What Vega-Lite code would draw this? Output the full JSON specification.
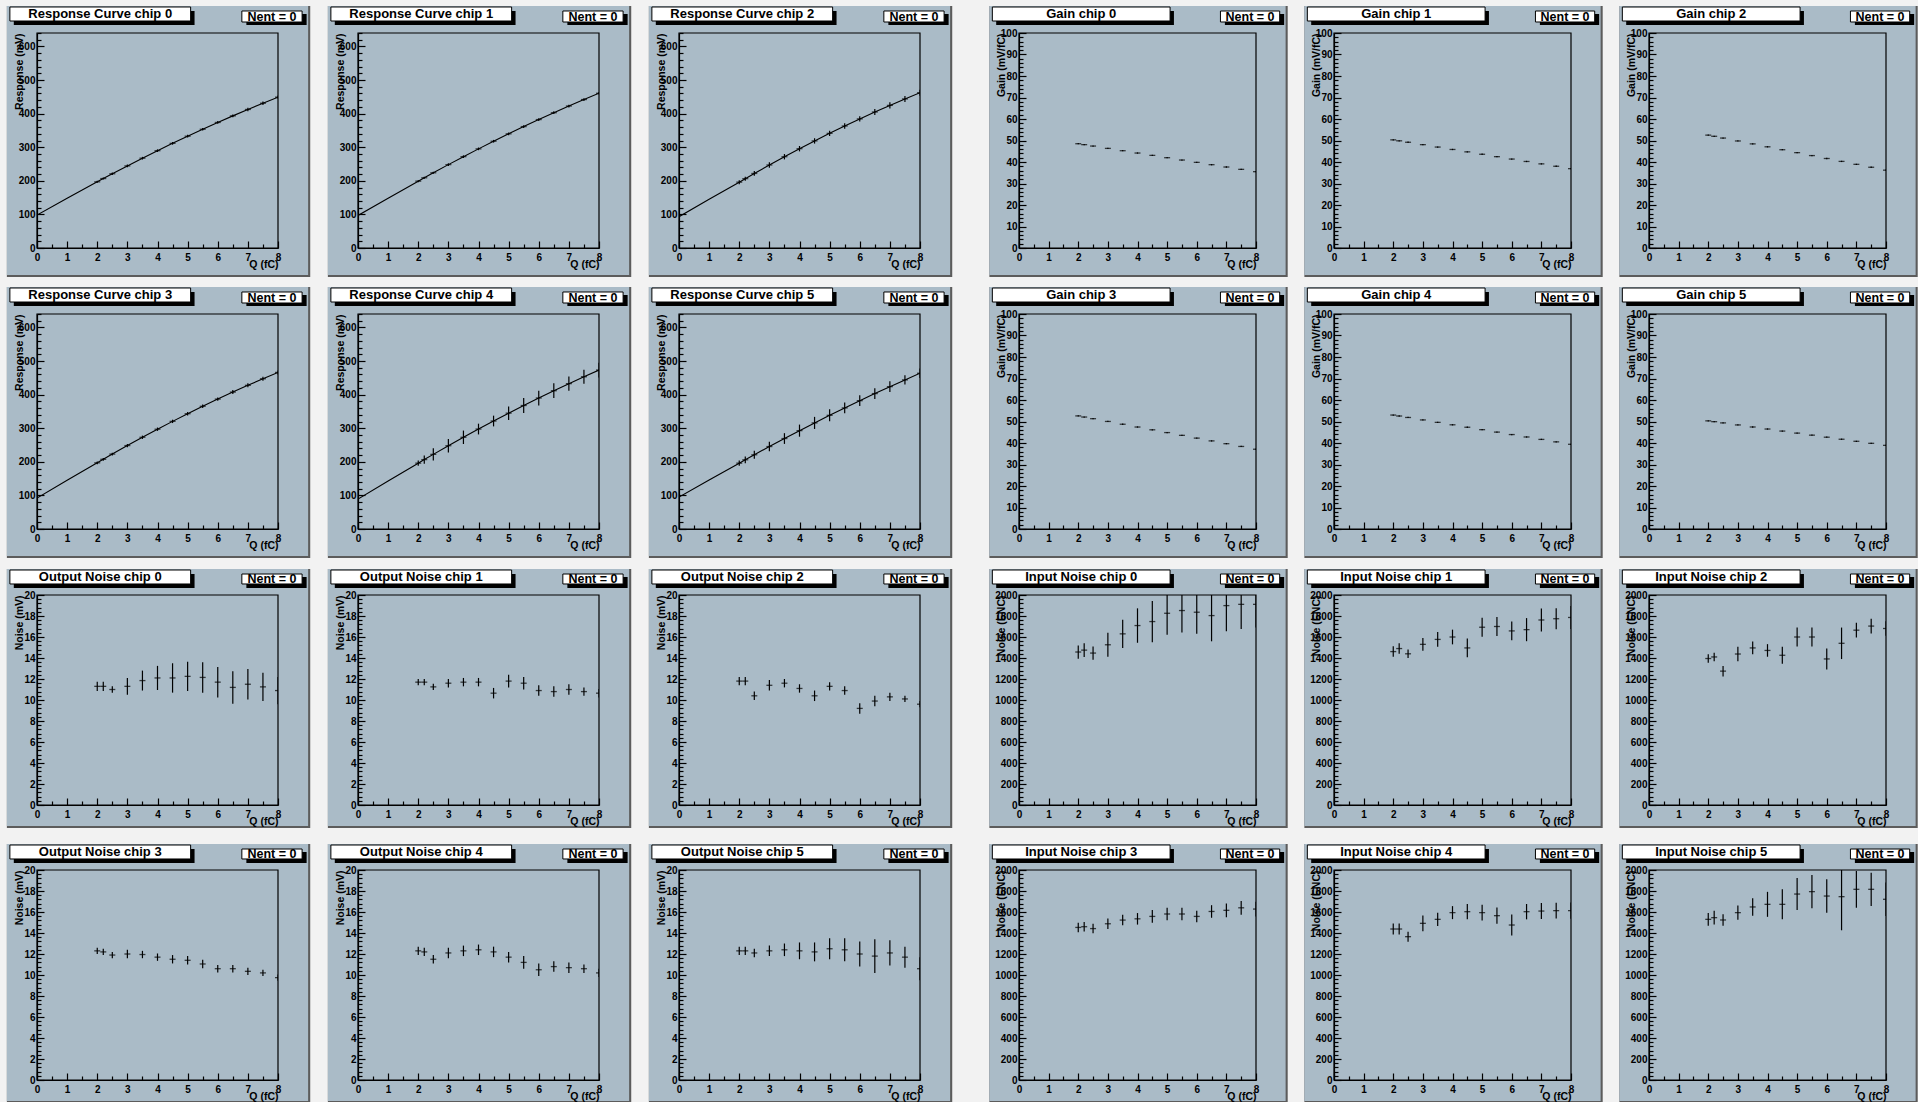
{
"$schema": "https://vega.github.io/schema/vega-lite/v6.json",
"background": "#f2f2f2",
"padding": {"left": 6, "top": 5, "right": 0, "bottom": 0},
"autosize": {"type": "pad"},
"datasets": {
"resp": [
{"chip":"Response Curve chip 0","q":0,"f":98},{"chip":"Response Curve chip 0","q":1,"f":148},
{"chip":"Response Curve chip 0","q":2,"v":197,"e":3,"f":197},{"chip":"Response Curve chip 0","q":2.2,"v":206.7,"e":3,"f":206.7},{"chip":"Response Curve chip 0","q":2.5,"v":221,"e":4,"f":221},{"chip":"Response Curve chip 0","q":3,"v":244.4,"e":4,"f":244.4},{"chip":"Response Curve chip 0","q":3.5,"v":267.3,"e":4,"f":267.3},{"chip":"Response Curve chip 0","q":4,"v":289.7,"e":4,"f":289.7},{"chip":"Response Curve chip 0","q":4.5,"v":311.5,"e":4,"f":311.5},{"chip":"Response Curve chip 0","q":5,"v":332.8,"e":4,"f":332.8},{"chip":"Response Curve chip 0","q":5.5,"v":353.5,"e":4,"f":353.5},{"chip":"Response Curve chip 0","q":6,"v":373.7,"e":4,"f":373.7},{"chip":"Response Curve chip 0","q":6.5,"v":393.3,"e":4,"f":393.3},{"chip":"Response Curve chip 0","q":7,"v":412.4,"e":5,"f":412.4},{"chip":"Response Curve chip 0","q":7.5,"v":431,"e":5,"f":431},{"chip":"Response Curve chip 0","q":8,"v":449,"e":5,"f":449},
{"chip":"Response Curve chip 1","q":0,"f":97},{"chip":"Response Curve chip 1","q":1,"f":148},
{"chip":"Response Curve chip 1","q":2,"v":199,"e":3,"f":199},{"chip":"Response Curve chip 1","q":2.2,"v":209,"e":3,"f":209},{"chip":"Response Curve chip 1","q":2.5,"v":223.9,"e":3,"f":223.9},{"chip":"Response Curve chip 1","q":3,"v":248.2,"e":4,"f":248.2},{"chip":"Response Curve chip 1","q":3.5,"v":271.9,"e":4,"f":271.9},{"chip":"Response Curve chip 1","q":4,"v":295.1,"e":4,"f":295.1},{"chip":"Response Curve chip 1","q":4.5,"v":317.8,"e":4,"f":317.8},{"chip":"Response Curve chip 1","q":5,"v":339.9,"e":4,"f":339.9},{"chip":"Response Curve chip 1","q":5.5,"v":361.4,"e":4,"f":361.4},{"chip":"Response Curve chip 1","q":6,"v":382.3,"e":4,"f":382.3},{"chip":"Response Curve chip 1","q":6.5,"v":402.7,"e":4,"f":402.7},{"chip":"Response Curve chip 1","q":7,"v":422.6,"e":4,"f":422.6},{"chip":"Response Curve chip 1","q":7.5,"v":441.9,"e":4,"f":441.9},{"chip":"Response Curve chip 1","q":8,"v":460.6,"e":4,"f":460.6},
{"chip":"Response Curve chip 2","q":0,"f":93},{"chip":"Response Curve chip 2","q":1,"f":145},
{"chip":"Response Curve chip 2","q":2,"v":196,"e":6,"f":196},{"chip":"Response Curve chip 2","q":2.2,"v":206.4,"e":6,"f":206.4},{"chip":"Response Curve chip 2","q":2.5,"v":221.9,"e":7,"f":221.9},{"chip":"Response Curve chip 2","q":3,"v":247.1,"e":8,"f":247.1},{"chip":"Response Curve chip 2","q":3.5,"v":271.7,"e":8,"f":271.7},{"chip":"Response Curve chip 2","q":4,"v":295.6,"e":8,"f":295.6},{"chip":"Response Curve chip 2","q":4.5,"v":318.8,"e":8,"f":318.8},{"chip":"Response Curve chip 2","q":5,"v":341.3,"e":8,"f":341.3},{"chip":"Response Curve chip 2","q":5.5,"v":363.1,"e":8,"f":363.1},{"chip":"Response Curve chip 2","q":6,"v":384.3,"e":8,"f":384.3},{"chip":"Response Curve chip 2","q":6.5,"v":404.8,"e":9,"f":404.8},{"chip":"Response Curve chip 2","q":7,"v":424.5,"e":9,"f":424.5},{"chip":"Response Curve chip 2","q":7.5,"v":443.7,"e":9,"f":443.7},{"chip":"Response Curve chip 2","q":8,"v":462.1,"e":9,"f":462.1},
{"chip":"Response Curve chip 3","q":0,"f":92},{"chip":"Response Curve chip 3","q":1,"f":145},
{"chip":"Response Curve chip 3","q":2,"v":197,"e":4,"f":197},{"chip":"Response Curve chip 3","q":2.2,"v":207.5,"e":4,"f":207.5},{"chip":"Response Curve chip 3","q":2.5,"v":223,"e":4,"f":223},{"chip":"Response Curve chip 3","q":3,"v":248.3,"e":5,"f":248.3},{"chip":"Response Curve chip 3","q":3.5,"v":273,"e":5,"f":273},{"chip":"Response Curve chip 3","q":4,"v":297,"e":5,"f":297},{"chip":"Response Curve chip 3","q":4.5,"v":320.4,"e":5,"f":320.4},{"chip":"Response Curve chip 3","q":5,"v":343.2,"e":5,"f":343.2},{"chip":"Response Curve chip 3","q":5.5,"v":365.3,"e":5,"f":365.3},{"chip":"Response Curve chip 3","q":6,"v":386.7,"e":5,"f":386.7},{"chip":"Response Curve chip 3","q":6.5,"v":407.5,"e":6,"f":407.5},{"chip":"Response Curve chip 3","q":7,"v":427.7,"e":6,"f":427.7},{"chip":"Response Curve chip 3","q":7.5,"v":447.2,"e":6,"f":447.2},{"chip":"Response Curve chip 3","q":8,"v":466.1,"e":6,"f":466.1},
{"chip":"Response Curve chip 4","q":0,"f":89},{"chip":"Response Curve chip 4","q":1,"f":143},
{"chip":"Response Curve chip 4","q":2,"v":196,"e":8,"f":196},{"chip":"Response Curve chip 4","q":2.2,"v":206.6,"e":12,"f":206.6},{"chip":"Response Curve chip 4","q":2.5,"v":222.2,"e":18,"f":222.2},{"chip":"Response Curve chip 4","q":3,"v":247.9,"e":20,"f":247.9},{"chip":"Response Curve chip 4","q":3.5,"v":273,"e":20,"f":273},{"chip":"Response Curve chip 4","q":4,"v":297.5,"e":16,"f":297.5},{"chip":"Response Curve chip 4","q":4.5,"v":321.4,"e":16,"f":321.4},{"chip":"Response Curve chip 4","q":5,"v":344.8,"e":20,"f":344.8},{"chip":"Response Curve chip 4","q":5.5,"v":367.6,"e":22,"f":367.6},{"chip":"Response Curve chip 4","q":6,"v":389.9,"e":22,"f":389.9},{"chip":"Response Curve chip 4","q":6.5,"v":411.6,"e":22,"f":411.6},{"chip":"Response Curve chip 4","q":7,"v":432.7,"e":21,"f":432.7},{"chip":"Response Curve chip 4","q":7.5,"v":453.2,"e":21,"f":453.2},{"chip":"Response Curve chip 4","q":8,"v":473.2,"e":22,"f":473.2},
{"chip":"Response Curve chip 5","q":0,"f":95},{"chip":"Response Curve chip 5","q":1,"f":146},
{"chip":"Response Curve chip 5","q":2,"v":196,"e":8,"f":196},{"chip":"Response Curve chip 5","q":2.2,"v":206,"e":10,"f":206},{"chip":"Response Curve chip 5","q":2.5,"v":220.9,"e":12,"f":220.9},{"chip":"Response Curve chip 5","q":3,"v":245.4,"e":14,"f":245.4},{"chip":"Response Curve chip 5","q":3.5,"v":269.3,"e":16,"f":269.3},{"chip":"Response Curve chip 5","q":4,"v":292.8,"e":18,"f":292.8},{"chip":"Response Curve chip 5","q":4.5,"v":315.8,"e":18,"f":315.8},{"chip":"Response Curve chip 5","q":5,"v":338.4,"e":18,"f":338.4},{"chip":"Response Curve chip 5","q":5.5,"v":360.4,"e":16,"f":360.4},{"chip":"Response Curve chip 5","q":6,"v":382,"e":16,"f":382},{"chip":"Response Curve chip 5","q":6.5,"v":403.1,"e":16,"f":403.1},{"chip":"Response Curve chip 5","q":7,"v":423.8,"e":16,"f":423.8},{"chip":"Response Curve chip 5","q":7.5,"v":443.9,"e":14,"f":443.9},{"chip":"Response Curve chip 5","q":8,"v":463.6,"e":14,"f":463.6}
],
"gain": [
{"chip":"Gain chip 0","q":2,"v":48.5,"e":0.3},{"chip":"Gain chip 0","q":2.2,"v":48.07,"e":0.3},{"chip":"Gain chip 0","q":2.5,"v":47.42,"e":0.3},{"chip":"Gain chip 0","q":3,"v":46.33,"e":0.3},{"chip":"Gain chip 0","q":3.5,"v":45.25,"e":0.3},{"chip":"Gain chip 0","q":4,"v":44.17,"e":0.3},{"chip":"Gain chip 0","q":4.5,"v":43.08,"e":0.3},{"chip":"Gain chip 0","q":5,"v":42.0,"e":0.3},{"chip":"Gain chip 0","q":5.5,"v":40.92,"e":0.3},{"chip":"Gain chip 0","q":6,"v":39.83,"e":0.3},{"chip":"Gain chip 0","q":6.5,"v":38.75,"e":0.3},{"chip":"Gain chip 0","q":7,"v":37.67,"e":0.3},{"chip":"Gain chip 0","q":7.5,"v":36.58,"e":0.3},{"chip":"Gain chip 0","q":8,"v":35.5,"e":0.3},
{"chip":"Gain chip 1","q":2,"v":50.3,"e":0.3},{"chip":"Gain chip 1","q":2.2,"v":49.85,"e":0.3},{"chip":"Gain chip 1","q":2.5,"v":49.18,"e":0.3},{"chip":"Gain chip 1","q":3,"v":48.07,"e":0.3},{"chip":"Gain chip 1","q":3.5,"v":46.95,"e":0.3},{"chip":"Gain chip 1","q":4,"v":45.83,"e":0.3},{"chip":"Gain chip 1","q":4.5,"v":44.72,"e":0.3},{"chip":"Gain chip 1","q":5,"v":43.6,"e":0.3},{"chip":"Gain chip 1","q":5.5,"v":42.48,"e":0.3},{"chip":"Gain chip 1","q":6,"v":41.37,"e":0.3},{"chip":"Gain chip 1","q":6.5,"v":40.25,"e":0.3},{"chip":"Gain chip 1","q":7,"v":39.13,"e":0.3},{"chip":"Gain chip 1","q":7.5,"v":38.02,"e":0.3},{"chip":"Gain chip 1","q":8,"v":36.9,"e":0.3},
{"chip":"Gain chip 2","q":2,"v":52.5,"e":0.3},{"chip":"Gain chip 2","q":2.2,"v":51.96,"e":0.3},{"chip":"Gain chip 2","q":2.5,"v":51.14,"e":0.3},{"chip":"Gain chip 2","q":3,"v":49.78,"e":0.3},{"chip":"Gain chip 2","q":3.5,"v":48.43,"e":0.3},{"chip":"Gain chip 2","q":4,"v":47.07,"e":0.3},{"chip":"Gain chip 2","q":4.5,"v":45.71,"e":0.3},{"chip":"Gain chip 2","q":5,"v":44.35,"e":0.3},{"chip":"Gain chip 2","q":5.5,"v":42.99,"e":0.3},{"chip":"Gain chip 2","q":6,"v":41.63,"e":0.3},{"chip":"Gain chip 2","q":6.5,"v":40.28,"e":0.3},{"chip":"Gain chip 2","q":7,"v":38.92,"e":0.3},{"chip":"Gain chip 2","q":7.5,"v":37.56,"e":0.3},{"chip":"Gain chip 2","q":8,"v":36.2,"e":0.3},
{"chip":"Gain chip 3","q":2,"v":52.6,"e":0.3},{"chip":"Gain chip 3","q":2.2,"v":52.08,"e":0.3},{"chip":"Gain chip 3","q":2.5,"v":51.31,"e":0.3},{"chip":"Gain chip 3","q":3,"v":50.02,"e":0.3},{"chip":"Gain chip 3","q":3.5,"v":48.73,"e":0.3},{"chip":"Gain chip 3","q":4,"v":47.43,"e":0.3},{"chip":"Gain chip 3","q":4.5,"v":46.14,"e":0.3},{"chip":"Gain chip 3","q":5,"v":44.85,"e":0.3},{"chip":"Gain chip 3","q":5.5,"v":43.56,"e":0.3},{"chip":"Gain chip 3","q":6,"v":42.27,"e":0.3},{"chip":"Gain chip 3","q":6.5,"v":40.98,"e":0.3},{"chip":"Gain chip 3","q":7,"v":39.68,"e":0.3},{"chip":"Gain chip 3","q":7.5,"v":38.39,"e":0.3},{"chip":"Gain chip 3","q":8,"v":37.1,"e":0.3},
{"chip":"Gain chip 4","q":2,"v":53.0,"e":0.3},{"chip":"Gain chip 4","q":2.2,"v":52.55,"e":0.3},{"chip":"Gain chip 4","q":2.5,"v":51.87,"e":0.3},{"chip":"Gain chip 4","q":3,"v":50.73,"e":0.3},{"chip":"Gain chip 4","q":3.5,"v":49.6,"e":0.3},{"chip":"Gain chip 4","q":4,"v":48.47,"e":0.3},{"chip":"Gain chip 4","q":4.5,"v":47.33,"e":0.3},{"chip":"Gain chip 4","q":5,"v":46.2,"e":0.3},{"chip":"Gain chip 4","q":5.5,"v":45.07,"e":0.3},{"chip":"Gain chip 4","q":6,"v":43.93,"e":0.3},{"chip":"Gain chip 4","q":6.5,"v":42.8,"e":0.3},{"chip":"Gain chip 4","q":7,"v":41.67,"e":0.3},{"chip":"Gain chip 4","q":7.5,"v":40.53,"e":0.3},{"chip":"Gain chip 4","q":8,"v":39.4,"e":0.3},
{"chip":"Gain chip 5","q":2,"v":50.3,"e":0.3},{"chip":"Gain chip 5","q":2.2,"v":49.92,"e":0.3},{"chip":"Gain chip 5","q":2.5,"v":49.35,"e":0.3},{"chip":"Gain chip 5","q":3,"v":48.4,"e":0.3},{"chip":"Gain chip 5","q":3.5,"v":47.45,"e":0.3},{"chip":"Gain chip 5","q":4,"v":46.5,"e":0.3},{"chip":"Gain chip 5","q":4.5,"v":45.55,"e":0.3},{"chip":"Gain chip 5","q":5,"v":44.6,"e":0.3},{"chip":"Gain chip 5","q":5.5,"v":43.65,"e":0.3},{"chip":"Gain chip 5","q":6,"v":42.7,"e":0.3},{"chip":"Gain chip 5","q":6.5,"v":41.75,"e":0.3},{"chip":"Gain chip 5","q":7,"v":40.8,"e":0.3},{"chip":"Gain chip 5","q":7.5,"v":39.85,"e":0.3},{"chip":"Gain chip 5","q":8,"v":38.9,"e":0.3}
],
"onoise": [
{"chip":"Output Noise chip 0","q":2,"v":11.3,"e":0.45},{"chip":"Output Noise chip 0","q":2.2,"v":11.3,"e":0.45},{"chip":"Output Noise chip 0","q":2.5,"v":11.0,"e":0.3},{"chip":"Output Noise chip 0","q":3,"v":11.3,"e":0.8},{"chip":"Output Noise chip 0","q":3.5,"v":11.85,"e":0.95},{"chip":"Output Noise chip 0","q":4,"v":12.1,"e":1.15},{"chip":"Output Noise chip 0","q":4.5,"v":12.1,"e":1.4},{"chip":"Output Noise chip 0","q":5,"v":12.25,"e":1.4},{"chip":"Output Noise chip 0","q":5.5,"v":12.15,"e":1.45},{"chip":"Output Noise chip 0","q":6,"v":11.7,"e":1.45},{"chip":"Output Noise chip 0","q":6.5,"v":11.2,"e":1.55},{"chip":"Output Noise chip 0","q":7,"v":11.5,"e":1.45},{"chip":"Output Noise chip 0","q":7.5,"v":11.25,"e":1.35},{"chip":"Output Noise chip 0","q":8,"v":10.9,"e":1.3},
{"chip":"Output Noise chip 1","q":2,"v":11.7,"e":0.3},{"chip":"Output Noise chip 1","q":2.2,"v":11.7,"e":0.3},{"chip":"Output Noise chip 1","q":2.5,"v":11.25,"e":0.3},{"chip":"Output Noise chip 1","q":3,"v":11.6,"e":0.4},{"chip":"Output Noise chip 1","q":3.5,"v":11.7,"e":0.4},{"chip":"Output Noise chip 1","q":4,"v":11.7,"e":0.4},{"chip":"Output Noise chip 1","q":4.5,"v":10.65,"e":0.5},{"chip":"Output Noise chip 1","q":5,"v":11.8,"e":0.6},{"chip":"Output Noise chip 1","q":5.5,"v":11.6,"e":0.6},{"chip":"Output Noise chip 1","q":6,"v":10.9,"e":0.5},{"chip":"Output Noise chip 1","q":6.5,"v":10.8,"e":0.5},{"chip":"Output Noise chip 1","q":7,"v":11.0,"e":0.5},{"chip":"Output Noise chip 1","q":7.5,"v":10.8,"e":0.4},{"chip":"Output Noise chip 1","q":8,"v":10.65,"e":0.4},
{"chip":"Output Noise chip 2","q":2,"v":11.8,"e":0.4},{"chip":"Output Noise chip 2","q":2.2,"v":11.8,"e":0.4},{"chip":"Output Noise chip 2","q":2.5,"v":10.4,"e":0.4},{"chip":"Output Noise chip 2","q":3,"v":11.4,"e":0.5},{"chip":"Output Noise chip 2","q":3.5,"v":11.6,"e":0.4},{"chip":"Output Noise chip 2","q":4,"v":11.1,"e":0.4},{"chip":"Output Noise chip 2","q":4.5,"v":10.4,"e":0.5},{"chip":"Output Noise chip 2","q":5,"v":11.3,"e":0.4},{"chip":"Output Noise chip 2","q":5.5,"v":10.9,"e":0.4},{"chip":"Output Noise chip 2","q":6,"v":9.2,"e":0.5},{"chip":"Output Noise chip 2","q":6.5,"v":9.9,"e":0.5},{"chip":"Output Noise chip 2","q":7,"v":10.3,"e":0.4},{"chip":"Output Noise chip 2","q":7.5,"v":10.1,"e":0.3},{"chip":"Output Noise chip 2","q":8,"v":9.6,"e":0.3},
{"chip":"Output Noise chip 3","q":2,"v":12.3,"e":0.3},{"chip":"Output Noise chip 3","q":2.2,"v":12.2,"e":0.3},{"chip":"Output Noise chip 3","q":2.5,"v":11.9,"e":0.3},{"chip":"Output Noise chip 3","q":3,"v":12.0,"e":0.4},{"chip":"Output Noise chip 3","q":3.5,"v":11.95,"e":0.35},{"chip":"Output Noise chip 3","q":4,"v":11.7,"e":0.35},{"chip":"Output Noise chip 3","q":4.5,"v":11.5,"e":0.4},{"chip":"Output Noise chip 3","q":5,"v":11.4,"e":0.4},{"chip":"Output Noise chip 3","q":5.5,"v":11.05,"e":0.4},{"chip":"Output Noise chip 3","q":6,"v":10.6,"e":0.35},{"chip":"Output Noise chip 3","q":6.5,"v":10.6,"e":0.35},{"chip":"Output Noise chip 3","q":7,"v":10.35,"e":0.35},{"chip":"Output Noise chip 3","q":7.5,"v":10.2,"e":0.3},{"chip":"Output Noise chip 3","q":8,"v":9.75,"e":0.3},
{"chip":"Output Noise chip 4","q":2,"v":12.3,"e":0.4},{"chip":"Output Noise chip 4","q":2.2,"v":12.2,"e":0.4},{"chip":"Output Noise chip 4","q":2.5,"v":11.5,"e":0.4},{"chip":"Output Noise chip 4","q":3,"v":12.1,"e":0.5},{"chip":"Output Noise chip 4","q":3.5,"v":12.3,"e":0.5},{"chip":"Output Noise chip 4","q":4,"v":12.4,"e":0.5},{"chip":"Output Noise chip 4","q":4.5,"v":12.2,"e":0.5},{"chip":"Output Noise chip 4","q":5,"v":11.7,"e":0.5},{"chip":"Output Noise chip 4","q":5.5,"v":11.2,"e":0.6},{"chip":"Output Noise chip 4","q":6,"v":10.5,"e":0.6},{"chip":"Output Noise chip 4","q":6.5,"v":10.8,"e":0.5},{"chip":"Output Noise chip 4","q":7,"v":10.7,"e":0.5},{"chip":"Output Noise chip 4","q":7.5,"v":10.6,"e":0.4},{"chip":"Output Noise chip 4","q":8,"v":10.2,"e":0.4},
{"chip":"Output Noise chip 5","q":2,"v":12.3,"e":0.4},{"chip":"Output Noise chip 5","q":2.2,"v":12.3,"e":0.4},{"chip":"Output Noise chip 5","q":2.5,"v":12.1,"e":0.4},{"chip":"Output Noise chip 5","q":3,"v":12.3,"e":0.5},{"chip":"Output Noise chip 5","q":3.5,"v":12.4,"e":0.6},{"chip":"Output Noise chip 5","q":4,"v":12.3,"e":0.8},{"chip":"Output Noise chip 5","q":4.5,"v":12.2,"e":0.9},{"chip":"Output Noise chip 5","q":5,"v":12.5,"e":1.0},{"chip":"Output Noise chip 5","q":5.5,"v":12.4,"e":1.1},{"chip":"Output Noise chip 5","q":6,"v":12.0,"e":1.2},{"chip":"Output Noise chip 5","q":6.5,"v":11.8,"e":1.6},{"chip":"Output Noise chip 5","q":7,"v":12.1,"e":1.2},{"chip":"Output Noise chip 5","q":7.5,"v":11.7,"e":1.0},{"chip":"Output Noise chip 5","q":8,"v":10.6,"e":1.1}
],
"inoise": [
{"chip":"Input Noise chip 0","q":2,"v":1457,"e":63},{"chip":"Input Noise chip 0","q":2.2,"v":1475,"e":65},{"chip":"Input Noise chip 0","q":2.5,"v":1447,"e":63},{"chip":"Input Noise chip 0","q":3,"v":1526,"e":114},{"chip":"Input Noise chip 0","q":3.5,"v":1630,"e":134},{"chip":"Input Noise chip 0","q":4,"v":1709,"e":164},{"chip":"Input Noise chip 0","q":4.5,"v":1747,"e":197},{"chip":"Input Noise chip 0","q":5,"v":1826,"e":205},{"chip":"Input Noise chip 0","q":5.5,"v":1852,"e":208},{"chip":"Input Noise chip 0","q":6,"v":1836,"e":205},{"chip":"Input Noise chip 0","q":6.5,"v":1804,"e":245},{"chip":"Input Noise chip 0","q":7,"v":1899,"e":245},{"chip":"Input Noise chip 0","q":7.5,"v":1911,"e":235},{"chip":"Input Noise chip 0","q":8,"v":1911,"e":220},
{"chip":"Input Noise chip 1","q":2,"v":1461,"e":50},{"chip":"Input Noise chip 1","q":2.2,"v":1490,"e":50},{"chip":"Input Noise chip 1","q":2.5,"v":1440,"e":40},{"chip":"Input Noise chip 1","q":3,"v":1530,"e":60},{"chip":"Input Noise chip 1","q":3.5,"v":1577,"e":70},{"chip":"Input Noise chip 1","q":4,"v":1600,"e":70},{"chip":"Input Noise chip 1","q":4.5,"v":1496,"e":90},{"chip":"Input Noise chip 1","q":5,"v":1693,"e":90},{"chip":"Input Noise chip 1","q":5.5,"v":1700,"e":90},{"chip":"Input Noise chip 1","q":6,"v":1658,"e":90},{"chip":"Input Noise chip 1","q":6.5,"v":1670,"e":110},{"chip":"Input Noise chip 1","q":7,"v":1762,"e":110},{"chip":"Input Noise chip 1","q":7.5,"v":1774,"e":100},{"chip":"Input Noise chip 1","q":8,"v":1786,"e":110},
{"chip":"Input Noise chip 2","q":2,"v":1395,"e":40},{"chip":"Input Noise chip 2","q":2.2,"v":1410,"e":40},{"chip":"Input Noise chip 2","q":2.5,"v":1275,"e":50},{"chip":"Input Noise chip 2","q":3,"v":1438,"e":70},{"chip":"Input Noise chip 2","q":3.5,"v":1496,"e":60},{"chip":"Input Noise chip 2","q":4,"v":1472,"e":60},{"chip":"Input Noise chip 2","q":4.5,"v":1426,"e":80},{"chip":"Input Noise chip 2","q":5,"v":1600,"e":90},{"chip":"Input Noise chip 2","q":5.5,"v":1600,"e":90},{"chip":"Input Noise chip 2","q":6,"v":1391,"e":100},{"chip":"Input Noise chip 2","q":6.5,"v":1540,"e":150},{"chip":"Input Noise chip 2","q":7,"v":1665,"e":70},{"chip":"Input Noise chip 2","q":7.5,"v":1704,"e":70},{"chip":"Input Noise chip 2","q":8,"v":1681,"e":70},
{"chip":"Input Noise chip 3","q":2,"v":1453,"e":45},{"chip":"Input Noise chip 3","q":2.2,"v":1460,"e":45},{"chip":"Input Noise chip 3","q":2.5,"v":1442,"e":45},{"chip":"Input Noise chip 3","q":3,"v":1488,"e":50},{"chip":"Input Noise chip 3","q":3.5,"v":1523,"e":50},{"chip":"Input Noise chip 3","q":4,"v":1535,"e":55},{"chip":"Input Noise chip 3","q":4.5,"v":1558,"e":60},{"chip":"Input Noise chip 3","q":5,"v":1581,"e":60},{"chip":"Input Noise chip 3","q":5.5,"v":1581,"e":60},{"chip":"Input Noise chip 3","q":6,"v":1558,"e":55},{"chip":"Input Noise chip 3","q":6.5,"v":1605,"e":60},{"chip":"Input Noise chip 3","q":7,"v":1616,"e":65},{"chip":"Input Noise chip 3","q":7.5,"v":1640,"e":65},{"chip":"Input Noise chip 3","q":8,"v":1628,"e":70},
{"chip":"Input Noise chip 4","q":2,"v":1438,"e":52},{"chip":"Input Noise chip 4","q":2.2,"v":1438,"e":52},{"chip":"Input Noise chip 4","q":2.5,"v":1365,"e":48},{"chip":"Input Noise chip 4","q":3,"v":1492,"e":75},{"chip":"Input Noise chip 4","q":3.5,"v":1530,"e":63},{"chip":"Input Noise chip 4","q":4,"v":1594,"e":62},{"chip":"Input Noise chip 4","q":4.5,"v":1603,"e":73},{"chip":"Input Noise chip 4","q":5,"v":1594,"e":76},{"chip":"Input Noise chip 4","q":5.5,"v":1565,"e":78},{"chip":"Input Noise chip 4","q":6,"v":1476,"e":100},{"chip":"Input Noise chip 4","q":6.5,"v":1603,"e":73},{"chip":"Input Noise chip 4","q":7,"v":1609,"e":76},{"chip":"Input Noise chip 4","q":7.5,"v":1613,"e":76},{"chip":"Input Noise chip 4","q":8,"v":1613,"e":78},
{"chip":"Input Noise chip 5","q":2,"v":1530,"e":60},{"chip":"Input Noise chip 5","q":2.2,"v":1546,"e":65},{"chip":"Input Noise chip 5","q":2.5,"v":1524,"e":54},{"chip":"Input Noise chip 5","q":3,"v":1594,"e":68},{"chip":"Input Noise chip 5","q":3.5,"v":1648,"e":83},{"chip":"Input Noise chip 5","q":4,"v":1673,"e":119},{"chip":"Input Noise chip 5","q":4.5,"v":1673,"e":143},{"chip":"Input Noise chip 5","q":5,"v":1771,"e":152},{"chip":"Input Noise chip 5","q":5.5,"v":1794,"e":159},{"chip":"Input Noise chip 5","q":6,"v":1752,"e":159},{"chip":"Input Noise chip 5","q":6.5,"v":1746,"e":320},{"chip":"Input Noise chip 5","q":7,"v":1816,"e":175},{"chip":"Input Noise chip 5","q":7.5,"v":1816,"e":158},{"chip":"Input Noise chip 5","q":8,"v":1721,"e":159}
]
},
"spacing": 10,
"vconcat": [
{"spacing": 36, "hconcat": [
{"data": {"name": "resp"},
 "facet": {"field": "chip", "type": "nominal", "header": {"labels": false, "title": null, "labelFontSize": 0, "labelPadding": 0, "labelExpr": "''"}},
 "columns": 3, "bounds": "flush", "spacing": {"row": 66, "column": 80},
 "resolve": {"axis": {"x": "independent", "y": "independent"}},
 "spec": {"width": 241, "height": 215, "layer": [
  {"transform": [{"filter": "datum.q === 2"}], "mark": {"type": "rect", "color": "#5c5c5c"}, "encoding": {"x": {"datum": -1.0}, "x2": {"datum": 9.07}, "y": {"datum": -86.3}, "y2": {"datum": 720.4}}},
  {"transform": [{"filter": "datum.q === 2"}], "mark": {"type": "rect", "color": "#aabbc7"}, "encoding": {"x": {"datum": -1.0}, "x2": {"datum": 9.0}, "y": {"datum": -80.4}, "y2": {"datum": 720.4}}},
  {"transform": [{"filter": "datum.q === 2"}], "mark": {"type": "rect", "color": "black"}, "encoding": {"x": {"datum": -0.77}, "x2": {"datum": 5.23}, "y": {"datum": 663.8}, "y2": {"datum": 705.5}}},
  {"transform": [{"filter": "datum.q === 2"}], "mark": {"type": "rect", "fill": "white", "stroke": "black", "strokeWidth": 1}, "encoding": {"x": {"datum": -0.9}, "x2": {"datum": 5.1}, "y": {"datum": 675.7}, "y2": {"datum": 717.4}}},
  {"transform": [{"filter": "datum.q === 2"}], "mark": {"type": "text", "font": "Liberation Sans", "fontWeight": "bold", "fontSize": 13, "align": "center", "baseline": "middle", "color": "black"}, "encoding": {"x": {"datum": 2.1}, "y": {"datum": 696.6}, "text": {"field": "chip"}}},
  {"transform": [{"filter": "datum.q === 2"}], "mark": {"type": "rect", "color": "black"}, "encoding": {"x": {"datum": 6.95}, "x2": {"datum": 8.95}, "y": {"datum": 663.8}, "y2": {"datum": 696.6}}},
  {"transform": [{"filter": "datum.q === 2"}], "mark": {"type": "rect", "fill": "white", "stroke": "black", "strokeWidth": 1}, "encoding": {"x": {"datum": 6.8}, "x2": {"datum": 8.8}, "y": {"datum": 672.7}, "y2": {"datum": 705.5}}},
  {"transform": [{"filter": "datum.q === 2"}], "mark": {"type": "text", "font": "Liberation Sans", "fontWeight": "bold", "fontSize": 12.5, "align": "center", "baseline": "middle", "color": "black"}, "encoding": {"x": {"datum": 7.8}, "y": {"datum": 689.1}, "text": {"value": "Nent = 0"}}},
  {"transform": [{"filter": "datum.q === 2"}], "mark": {"type": "rect", "filled": false, "stroke": "black", "strokeWidth": 1.2}, "encoding": {"x": {"datum": 0}, "x2": {"datum": 8}, "y": {"datum": 0}, "y2": {"datum": 640}}},
  {"transform": [{"filter": "isValid(datum.f)"}], "mark": {"type": "line", "color": "black", "strokeWidth": 1.1, "clip": true}, "encoding": {"x": {"field": "q", "type": "quantitative", "title": "Q (fC)"}, "y": {"field": "f", "type": "quantitative", "title": "Response (mV)"}}},
  {"transform": [{"filter": "isValid(datum.v)"}], "mark": {"type": "errorbar", "color": "black", "thickness": 1.2, "clip": true}, "encoding": {"x": {"field": "q", "type": "quantitative", "title": "Q (fC)"}, "y": {"field": "v", "type": "quantitative", "title": "Response (mV)"}, "yError": {"field": "e"}}},
  {"transform": [{"filter": "isValid(datum.v)"}], "mark": {"type": "tick", "orient": "horizontal", "size": 6, "thickness": 1.3, "color": "black", "clip": true},
   "encoding": {
    "x": {"field": "q", "type": "quantitative", "title": "Q (fC)", "scale": {"domain": [0, 8], "nice": false, "zero": false}, "axis": {"zindex": 1, "tickCount": 500, "tickMinStep": 0.01, "labelOverlap": false, "labelFlush": false, "values": [0,0.5,1,1.5,2,2.5,3,3.5,4,4.5,5,5.5,6,6.5,7,7.5,8], "labelExpr": "datum.value % 1 === 0 ? format(datum.value, 'd') : ''", "tickSize": {"condition": {"test": "datum.value % 1 === 0", "value": -7}, "value": -4}, "labelPadding": 11, "titleX": 241, "titleY": 16, "titleAlign": "right", "titleBaseline": "middle"}},
    "y": {"field": "v", "type": "quantitative", "title": "Response (mV)", "scale": {"domain": [0, 640], "nice": false, "zero": false}, "axis": {"zindex": 1, "tickCount": 500, "tickMinStep": 0.01, "labelOverlap": false, "labelFlush": false, "values": [0,20,40,60,80,100,120,140,160,180,200,220,240,260,280,300,320,340,360,380,400,420,440,460,480,500,520,540,560,580,600,620,640], "labelExpr": "datum.value % 100 === 0 ? format(datum.value, 'd') : ''", "tickSize": {"condition": {"test": "datum.value % 100 === 0", "value": -7}, "value": -4}, "labelPadding": 9, "titleX": -18, "titleY": 0, "titleAlign": "right", "titleBaseline": "middle", "titleAngle": -90}}
   }}
 ]}
},
{"data": {"name": "gain"},
 "facet": {"field": "chip", "type": "nominal", "header": {"labels": false, "title": null, "labelFontSize": 0, "labelPadding": 0, "labelExpr": "''"}},
 "columns": 3, "bounds": "flush", "spacing": {"row": 66, "column": 78},
 "resolve": {"axis": {"x": "independent", "y": "independent"}},
 "spec": {"width": 237, "height": 215, "layer": [
  {"transform": [{"filter": "datum.q === 2"}], "mark": {"type": "rect", "color": "#5c5c5c"}, "encoding": {"x": {"datum": -1.0}, "x2": {"datum": 9.07}, "y": {"datum": -13.49}, "y2": {"datum": 112.56}}},
  {"transform": [{"filter": "datum.q === 2"}], "mark": {"type": "rect", "color": "#aabbc7"}, "encoding": {"x": {"datum": -1.0}, "x2": {"datum": 9.0}, "y": {"datum": -12.56}, "y2": {"datum": 112.56}}},
  {"transform": [{"filter": "datum.q === 2"}], "mark": {"type": "rect", "color": "black"}, "encoding": {"x": {"datum": -0.77}, "x2": {"datum": 5.23}, "y": {"datum": 103.72}, "y2": {"datum": 110.23}}},
  {"transform": [{"filter": "datum.q === 2"}], "mark": {"type": "rect", "fill": "white", "stroke": "black", "strokeWidth": 1}, "encoding": {"x": {"datum": -0.9}, "x2": {"datum": 5.1}, "y": {"datum": 105.58}, "y2": {"datum": 112.09}}},
  {"transform": [{"filter": "datum.q === 2"}], "mark": {"type": "text", "font": "Liberation Sans", "fontWeight": "bold", "fontSize": 13, "align": "center", "baseline": "middle", "color": "black"}, "encoding": {"x": {"datum": 2.1}, "y": {"datum": 108.84}, "text": {"field": "chip"}}},
  {"transform": [{"filter": "datum.q === 2"}], "mark": {"type": "rect", "color": "black"}, "encoding": {"x": {"datum": 6.95}, "x2": {"datum": 8.95}, "y": {"datum": 103.72}, "y2": {"datum": 108.84}}},
  {"transform": [{"filter": "datum.q === 2"}], "mark": {"type": "rect", "fill": "white", "stroke": "black", "strokeWidth": 1}, "encoding": {"x": {"datum": 6.8}, "x2": {"datum": 8.8}, "y": {"datum": 105.12}, "y2": {"datum": 110.23}}},
  {"transform": [{"filter": "datum.q === 2"}], "mark": {"type": "text", "font": "Liberation Sans", "fontWeight": "bold", "fontSize": 12.5, "align": "center", "baseline": "middle", "color": "black"}, "encoding": {"x": {"datum": 7.8}, "y": {"datum": 107.67}, "text": {"value": "Nent = 0"}}},
  {"transform": [{"filter": "datum.q === 2"}], "mark": {"type": "rect", "filled": false, "stroke": "black", "strokeWidth": 1.2}, "encoding": {"x": {"datum": 0}, "x2": {"datum": 8}, "y": {"datum": 0}, "y2": {"datum": 100}}},
  {"mark": {"type": "errorbar", "color": "black", "thickness": 1.2, "clip": true}, "encoding": {"x": {"field": "q", "type": "quantitative", "title": "Q (fC)"}, "y": {"field": "v", "type": "quantitative", "title": "Gain (mV/fC)"}, "yError": {"field": "e"}}},
  {"mark": {"type": "tick", "orient": "horizontal", "size": 6, "thickness": 1.3, "color": "black", "clip": true},
   "encoding": {
    "x": {"field": "q", "type": "quantitative", "title": "Q (fC)", "scale": {"domain": [0, 8], "nice": false, "zero": false}, "axis": {"zindex": 1, "tickCount": 500, "tickMinStep": 0.01, "labelOverlap": false, "labelFlush": false, "values": [0,0.5,1,1.5,2,2.5,3,3.5,4,4.5,5,5.5,6,6.5,7,7.5,8], "labelExpr": "datum.value % 1 === 0 ? format(datum.value, 'd') : ''", "tickSize": {"condition": {"test": "datum.value % 1 === 0", "value": -7}, "value": -4}, "labelPadding": 11, "titleX": 237, "titleY": 16, "titleAlign": "right", "titleBaseline": "middle"}},
    "y": {"field": "v", "type": "quantitative", "title": "Gain (mV/fC)", "scale": {"domain": [0, 100], "nice": false, "zero": false}, "axis": {"zindex": 1, "tickCount": 500, "tickMinStep": 0.01, "labelOverlap": false, "labelFlush": false, "values": [0,2,4,6,8,10,12,14,16,18,20,22,24,26,28,30,32,34,36,38,40,42,44,46,48,50,52,54,56,58,60,62,64,66,68,70,72,74,76,78,80,82,84,86,88,90,92,94,96,98,100], "labelExpr": "datum.value % 10 === 0 ? format(datum.value, 'd') : ''", "tickSize": {"condition": {"test": "datum.value % 10 === 0", "value": -7}, "value": -4}, "labelPadding": 9, "titleX": -18, "titleY": 0, "titleAlign": "right", "titleBaseline": "middle", "titleAngle": -90}}
   }}
 ]}
}
]},
{"spacing": 36, "hconcat": [
{"data": {"name": "onoise"},
 "facet": {"field": "chip", "type": "nominal", "header": {"labels": false, "title": null, "labelFontSize": 0, "labelPadding": 0, "labelExpr": "''"}},
 "columns": 3, "bounds": "flush", "spacing": {"row": 65, "column": 80},
 "resolve": {"axis": {"x": "independent", "y": "independent"}},
 "spec": {"width": 241, "height": 210, "layer": [
  {"transform": [{"filter": "datum.q === 2"}], "mark": {"type": "rect", "color": "#5c5c5c"}, "encoding": {"x": {"datum": -1.0}, "x2": {"datum": 9.07}, "y": {"datum": -2.19}, "y2": {"datum": 22.476}}},
  {"transform": [{"filter": "datum.q === 2"}], "mark": {"type": "rect", "color": "#aabbc7"}, "encoding": {"x": {"datum": -1.0}, "x2": {"datum": 9.0}, "y": {"datum": -2.0}, "y2": {"datum": 22.476}}},
  {"transform": [{"filter": "datum.q === 2"}], "mark": {"type": "rect", "color": "black"}, "encoding": {"x": {"datum": -0.77}, "x2": {"datum": 5.23}, "y": {"datum": 20.667}, "y2": {"datum": 22.0}}},
  {"transform": [{"filter": "datum.q === 2"}], "mark": {"type": "rect", "fill": "white", "stroke": "black", "strokeWidth": 1}, "encoding": {"x": {"datum": -0.9}, "x2": {"datum": 5.1}, "y": {"datum": 21.05}, "y2": {"datum": 22.38}}},
  {"transform": [{"filter": "datum.q === 2"}], "mark": {"type": "text", "font": "Liberation Sans", "fontWeight": "bold", "fontSize": 13, "align": "center", "baseline": "middle", "color": "black"}, "encoding": {"x": {"datum": 2.1}, "y": {"datum": 21.714}, "text": {"field": "chip"}}},
  {"transform": [{"filter": "datum.q === 2"}], "mark": {"type": "rect", "color": "black"}, "encoding": {"x": {"datum": 6.95}, "x2": {"datum": 8.95}, "y": {"datum": 20.667}, "y2": {"datum": 21.714}}},
  {"transform": [{"filter": "datum.q === 2"}], "mark": {"type": "rect", "fill": "white", "stroke": "black", "strokeWidth": 1}, "encoding": {"x": {"datum": 6.8}, "x2": {"datum": 8.8}, "y": {"datum": 21.05}, "y2": {"datum": 22.0}}},
  {"transform": [{"filter": "datum.q === 2"}], "mark": {"type": "text", "font": "Liberation Sans", "fontWeight": "bold", "fontSize": 12.5, "align": "center", "baseline": "middle", "color": "black"}, "encoding": {"x": {"datum": 7.8}, "y": {"datum": 21.524}, "text": {"value": "Nent = 0"}}},
  {"transform": [{"filter": "datum.q === 2"}], "mark": {"type": "rect", "filled": false, "stroke": "black", "strokeWidth": 1.2}, "encoding": {"x": {"datum": 0}, "x2": {"datum": 8}, "y": {"datum": 0}, "y2": {"datum": 20}}},
  {"mark": {"type": "errorbar", "color": "black", "thickness": 1.2, "clip": true}, "encoding": {"x": {"field": "q", "type": "quantitative", "title": "Q (fC)"}, "y": {"field": "v", "type": "quantitative", "title": "Noise (mV)"}, "yError": {"field": "e"}}},
  {"mark": {"type": "tick", "orient": "horizontal", "size": 6, "thickness": 1.3, "color": "black", "clip": true},
   "encoding": {
    "x": {"field": "q", "type": "quantitative", "title": "Q (fC)", "scale": {"domain": [0, 8], "nice": false, "zero": false}, "axis": {"zindex": 1, "tickCount": 500, "tickMinStep": 0.01, "labelOverlap": false, "labelFlush": false, "values": [0,0.5,1,1.5,2,2.5,3,3.5,4,4.5,5,5.5,6,6.5,7,7.5,8], "labelExpr": "datum.value % 1 === 0 ? format(datum.value, 'd') : ''", "tickSize": {"condition": {"test": "datum.value % 1 === 0", "value": -7}, "value": -4}, "labelPadding": 11, "titleX": 241, "titleY": 16, "titleAlign": "right", "titleBaseline": "middle"}},
    "y": {"field": "v", "type": "quantitative", "title": "Noise (mV)", "scale": {"domain": [0, 20], "nice": false, "zero": false}, "axis": {"zindex": 1, "tickCount": 500, "tickMinStep": 0.01, "labelOverlap": false, "labelFlush": false, "values": [0,0.4,0.8,1.2,1.6,2,2.4,2.8,3.2,3.6,4,4.4,4.8,5.2,5.6,6,6.4,6.8,7.2,7.6,8,8.4,8.8,9.2,9.6,10,10.4,10.8,11.2,11.6,12,12.4,12.8,13.2,13.6,14,14.4,14.8,15.2,15.6,16,16.4,16.8,17.2,17.6,18,18.4,18.8,19.2,19.6,20], "labelExpr": "datum.value % 2 === 0 ? format(datum.value, 'd') : ''", "tickSize": {"condition": {"test": "datum.value % 2 === 0", "value": -7}, "value": -4}, "labelPadding": 9, "titleX": -18, "titleY": 0, "titleAlign": "right", "titleBaseline": "middle", "titleAngle": -90}}
   }}
 ]}
},
{"data": {"name": "inoise"},
 "facet": {"field": "chip", "type": "nominal", "header": {"labels": false, "title": null, "labelFontSize": 0, "labelPadding": 0, "labelExpr": "''"}},
 "columns": 3, "bounds": "flush", "spacing": {"row": 65, "column": 78},
 "resolve": {"axis": {"x": "independent", "y": "independent"}},
 "spec": {"width": 237, "height": 210, "layer": [
  {"transform": [{"filter": "datum.q === 2"}], "mark": {"type": "rect", "color": "#5c5c5c"}, "encoding": {"x": {"datum": -1.0}, "x2": {"datum": 9.07}, "y": {"datum": -219}, "y2": {"datum": 2247.6}}},
  {"transform": [{"filter": "datum.q === 2"}], "mark": {"type": "rect", "color": "#aabbc7"}, "encoding": {"x": {"datum": -1.0}, "x2": {"datum": 9.0}, "y": {"datum": -200}, "y2": {"datum": 2247.6}}},
  {"transform": [{"filter": "datum.q === 2"}], "mark": {"type": "rect", "color": "black"}, "encoding": {"x": {"datum": -0.77}, "x2": {"datum": 5.23}, "y": {"datum": 2066.7}, "y2": {"datum": 2200}}},
  {"transform": [{"filter": "datum.q === 2"}], "mark": {"type": "rect", "fill": "white", "stroke": "black", "strokeWidth": 1}, "encoding": {"x": {"datum": -0.9}, "x2": {"datum": 5.1}, "y": {"datum": 2104.8}, "y2": {"datum": 2238.1}}},
  {"transform": [{"filter": "datum.q === 2"}], "mark": {"type": "text", "font": "Liberation Sans", "fontWeight": "bold", "fontSize": 13, "align": "center", "baseline": "middle", "color": "black"}, "encoding": {"x": {"datum": 2.1}, "y": {"datum": 2171.4}, "text": {"field": "chip"}}},
  {"transform": [{"filter": "datum.q === 2"}], "mark": {"type": "rect", "color": "black"}, "encoding": {"x": {"datum": 6.95}, "x2": {"datum": 8.95}, "y": {"datum": 2066.7}, "y2": {"datum": 2171.4}}},
  {"transform": [{"filter": "datum.q === 2"}], "mark": {"type": "rect", "fill": "white", "stroke": "black", "strokeWidth": 1}, "encoding": {"x": {"datum": 6.8}, "x2": {"datum": 8.8}, "y": {"datum": 2104.8}, "y2": {"datum": 2200}}},
  {"transform": [{"filter": "datum.q === 2"}], "mark": {"type": "text", "font": "Liberation Sans", "fontWeight": "bold", "fontSize": 12.5, "align": "center", "baseline": "middle", "color": "black"}, "encoding": {"x": {"datum": 7.8}, "y": {"datum": 2152.4}, "text": {"value": "Nent = 0"}}},
  {"transform": [{"filter": "datum.q === 2"}], "mark": {"type": "rect", "filled": false, "stroke": "black", "strokeWidth": 1.2}, "encoding": {"x": {"datum": 0}, "x2": {"datum": 8}, "y": {"datum": 0}, "y2": {"datum": 2000}}},
  {"mark": {"type": "errorbar", "color": "black", "thickness": 1.2, "clip": true}, "encoding": {"x": {"field": "q", "type": "quantitative", "title": "Q (fC)"}, "y": {"field": "v", "type": "quantitative", "title": "Noise (ENC)"}, "yError": {"field": "e"}}},
  {"mark": {"type": "tick", "orient": "horizontal", "size": 6, "thickness": 1.3, "color": "black", "clip": true},
   "encoding": {
    "x": {"field": "q", "type": "quantitative", "title": "Q (fC)", "scale": {"domain": [0, 8], "nice": false, "zero": false}, "axis": {"zindex": 1, "tickCount": 500, "tickMinStep": 0.01, "labelOverlap": false, "labelFlush": false, "values": [0,0.5,1,1.5,2,2.5,3,3.5,4,4.5,5,5.5,6,6.5,7,7.5,8], "labelExpr": "datum.value % 1 === 0 ? format(datum.value, 'd') : ''", "tickSize": {"condition": {"test": "datum.value % 1 === 0", "value": -7}, "value": -4}, "labelPadding": 11, "titleX": 237, "titleY": 16, "titleAlign": "right", "titleBaseline": "middle"}},
    "y": {"field": "v", "type": "quantitative", "title": "Noise (ENC)", "scale": {"domain": [0, 2000], "nice": false, "zero": false}, "axis": {"zindex": 1, "tickCount": 500, "tickMinStep": 0.01, "labelOverlap": false, "labelFlush": false, "values": [0,40,80,120,160,200,240,280,320,360,400,440,480,520,560,600,640,680,720,760,800,840,880,920,960,1000,1040,1080,1120,1160,1200,1240,1280,1320,1360,1400,1440,1480,1520,1560,1600,1640,1680,1720,1760,1800,1840,1880,1920,1960,2000], "labelExpr": "datum.value % 200 === 0 ? format(datum.value, 'd') : ''", "tickSize": {"condition": {"test": "datum.value % 200 === 0", "value": -7}, "value": -4}, "labelPadding": 9, "titleX": -18, "titleY": 0, "titleAlign": "right", "titleBaseline": "middle", "titleAngle": -90}}
   }}
 ]}
}
]}
],
"config": {
 "view": {"stroke": null},
 "header": {"labels": false, "title": null, "labelFontSize": 0, "labelPadding": 0},
 "headerFacet": {"labels": false, "title": null, "labelFontSize": 0, "labelPadding": 0},
 "axis": {"zindex": 1, "grid": false, "domainColor": "black", "domainWidth": 1.2, "tickColor": "black", "tickWidth": 1.2, "labelFont": "Liberation Sans", "labelFontWeight": "bold", "labelFontSize": 10, "labelColor": "black", "titleFont": "Liberation Sans", "titleFontWeight": "bold", "titleFontSize": 10.5, "titleColor": "black", "labelFlush": false, "labelOverlap": false},
 "text": {"font": "Liberation Sans"}
}
}
